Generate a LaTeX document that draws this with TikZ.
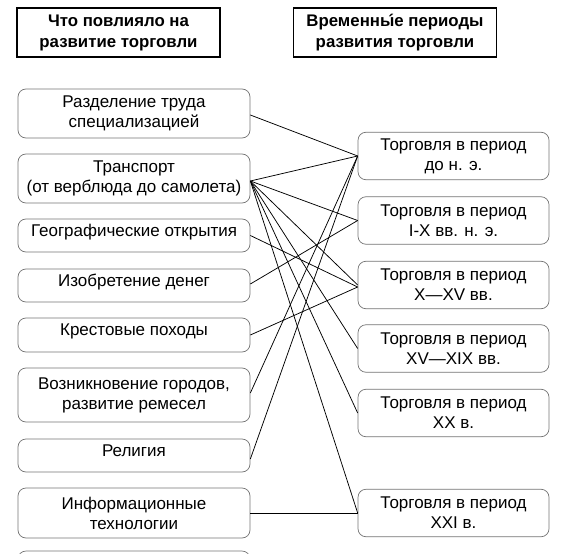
\documentclass[tikz,border=0pt]{standalone}
\usepackage{fontspec}
\setmainfont{Liberation Sans}
\begin{document}
\begin{tikzpicture}[x=1pt,y=-1pt,
  hdr/.style={draw=black, line width=1.1pt, minimum width=203pt, minimum height=49pt, inner sep=0pt, align=center, font=\fontsize{16.8}{21}\selectfont\bfseries},
  lbox/.style={draw=black!55, line width=0.7pt, rounded corners=8pt, minimum width=232pt, inner sep=0pt, align=center, font=\fontsize{17}{20}\selectfont},
  rbox/.style={draw=black!55, line width=0.7pt, rounded corners=8pt, minimum width=191pt, minimum height=47.5pt, inner sep=0pt, align=center, font=\fontsize{17}{20}\selectfont},
  lift/.style={text depth=#1},
  link/.style={draw=black, line width=0.75pt}]
\useasboundingbox (0,0) rectangle (577,553);
\clip (0,0) rectangle (577,553);
% headers
\node[hdr] (h1) at (118.5,32.5) {Что повлияло на\\развитие торговли};
\node[hdr] (h2) at (395,32.5) {Временны\llap{´\hspace{0.5pt}}е периоды\\развития торговли};
% left boxes
\node[lbox, minimum height=49pt] (l1) at (134,113.5) {Разделение труда\\специализацией};
\node[lbox, minimum height=49pt] (l2) at (134,178.5) {Транспорт\\(от верблюда до самолета)};
\node[lbox, minimum height=33pt, lift=10pt] (l3) at (134,235.5) {Географические открытия};
\node[lbox, minimum height=33pt, lift=10pt] (l4) at (134,285.5) {Изобретение денег};
\node[lbox, minimum height=34pt, lift=10pt] (l5) at (134,335) {Крестовые походы};
\node[lbox, minimum height=54pt] (l6) at (134,395) {Возникновение городов,\\развитие ремесел};
\node[lbox, minimum height=33pt, lift=9pt] (l7) at (134,455.5) {Религия};
\node[lbox, minimum height=50pt] (l8) at (134,513) {Информационные\\технологии};
\draw[draw=black!55, line width=0.7pt, rounded corners=8pt] (18,551) rectangle (250,610);
% right boxes
\node[rbox] (r1) at (453.5,156) {Торговля в период\\до н. э.};
\node[rbox] (r2) at (453.5,220.5) {Торговля в период\\I-X вв. н. э.};
\node[rbox] (r3) at (453.5,285) {Торговля в период\\X—XV вв.};
\node[rbox] (r4) at (453.5,348.5) {Торговля в период\\XV—XIX вв.};
\node[rbox] (r5) at (453.5,413) {Торговля в период\\XX в.};
\node[rbox] (r6) at (453.5,513) {Торговля в период\\XXI в.};
% connectors
\coordinate (a1) at ([yshift=-1.5pt]l1.east);
\coordinate (a2) at ([yshift=-2.5pt]l2.east);
\draw[link] (a1) -- (r1.west);
\draw[link] (a2) -- (r1.west);
\draw[link] (a2) -- (r2.west);
\draw[link] (a2) -- (r3.west);
\draw[link] (a2) -- (r4.west);
\draw[link] (a2) -- (r5.west);
\draw[link] (a2) -- (r6.west);
\draw[link] (l3.east) -- ([yshift=-2pt]r3.west);
\draw[link] ([yshift=1.5pt]l4.east) -- (r2.west);
\draw[link] (l5.east) -- ([yshift=-2pt]r3.west);
\draw[link] ([yshift=2pt]l6.east) -- (r1.west);
\draw[link] ([yshift=-3.5pt]l7.east) -- (r1.west);
\draw[link] (l8.east) -- (r6.west);
\end{tikzpicture}
\end{document}
